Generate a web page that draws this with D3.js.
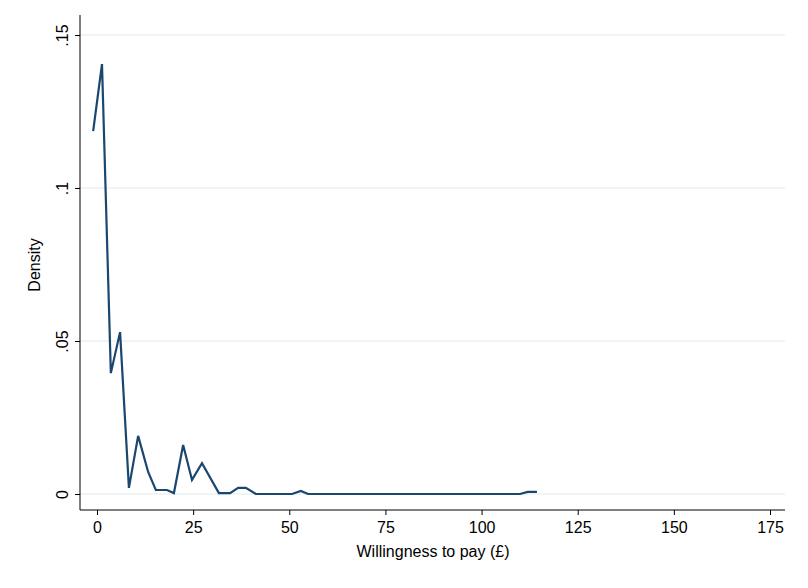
<!DOCTYPE html>
<html><head><meta charset="utf-8">
<script src="https://cdn.jsdelivr.net/npm/d3@7"></script>
<style>body{margin:0;background:#fff}text{font-family:Arial,"Liberation Sans",sans-serif}</style>
</head><body><svg id="chart" width="808" height="588"></svg>
<script>
const wtp = [-1.0, 1.3, 3.6, 6.0, 8.3, 10.7, 13.3, 15.3, 18.2, 20.0, 22.4, 24.7, 27.3, 31.7, 34.6, 36.7, 38.7, 41.3, 50.7, 53.0, 54.9, 110.0, 112.0, 114.4];
const density = [0.1186, 0.1405, 0.0395, 0.0529, 0.002, 0.019, 0.0072, 0.0013, 0.0013, 0.0003, 0.016, 0.0046, 0.0101, 0.0003, 0.0003, 0.002, 0.002, 0, 0, 0.001, 0, 0, 0.0007, 0.0007];
const xTicks = [0, 25, 50, 75, 100, 125, 150, 175];
const yTicks = [0, 0.05, 0.1, 0.15];
const yTickLabels = ["0", ".05", ".1", ".15"];

const svg = d3.select("#chart");
const x = d3.scaleLinear().domain([0, 175]).range([97, 770]);
const y = d3.scaleLinear().domain([0, 0.15]).range([494, 35]);
const plotLeft = 80, plotRight = 785, plotBottom = 510, plotTop = 15;

// gridlines
svg.append("g").selectAll("line").data(yTicks).join("line")
    .attr("x1", plotLeft).attr("x2", plotRight)
    .attr("y1", d => y(d)).attr("y2", d => y(d))
    .attr("stroke", "#eaf2f3").attr("stroke-width", 1.5);

// y axis
const yAxis = svg.append("g").attr("transform", `translate(${plotLeft},0)`)
    .call(d3.axisLeft(y).tickValues(yTicks).tickFormat((d, i) => yTickLabels[i]).tickSize(5));
yAxis.select(".domain").attr("d", `M0,${plotTop}V${plotBottom}`);
yAxis.selectAll(".tick text").attr("font-size", 16).attr("fill", "#000")
    .attr("x", 0).attr("y", -12).attr("dy", 0)
    .attr("text-anchor", "middle").attr("transform", "rotate(-90)");

// x axis
const xAxis = svg.append("g").attr("transform", `translate(0,${plotBottom})`)
    .call(d3.axisBottom(x).tickValues(xTicks).tickSize(5));
xAxis.select(".domain").attr("d", `M${plotLeft},0H${plotRight}`);
xAxis.selectAll("text").attr("font-size", 16).attr("fill", "#000").attr("y", 9).attr("dy", "0.9em");

svg.append("text").attr("transform", "rotate(-90)").attr("x", -265).attr("y", 40)
    .attr("text-anchor", "middle").attr("font-size", 16).text("Density");
svg.append("text").attr("x", 433).attr("y", 557)
    .attr("text-anchor", "middle").attr("font-size", 16).text("Willingness to pay (£)");

const line = d3.line().x((d, i) => x(wtp[i])).y(d => y(d));
svg.append("path").datum(density).attr("d", line)
    .attr("fill", "none").attr("stroke", "#1a476f").attr("stroke-width", 2.2);
</script></body></html>
